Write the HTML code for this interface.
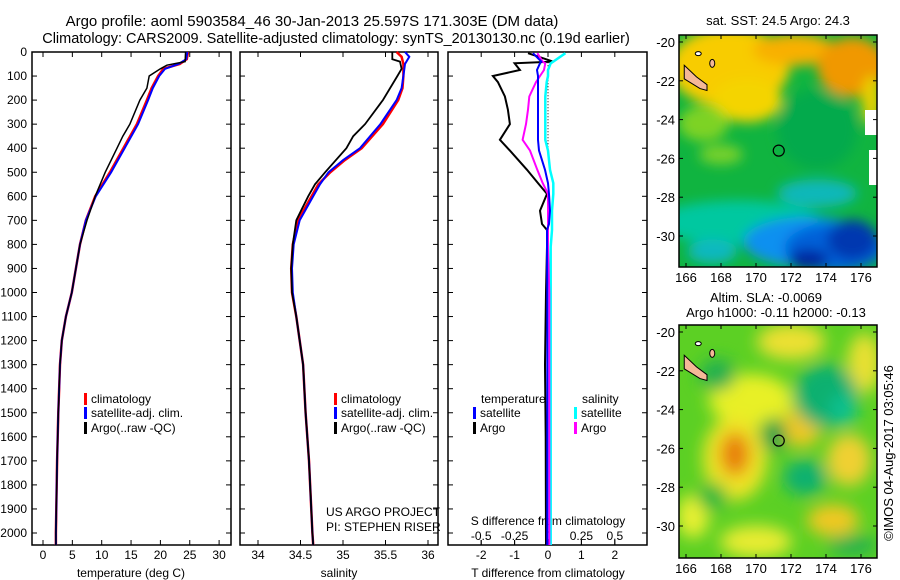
<!DOCTYPE html>
<html><head><meta charset="utf-8"><style>
body{margin:0;background:#fff;}
svg{display:block;font-family:"Liberation Sans",sans-serif;}
</style></head><body>
<svg id="c" width="900" height="580" xmlns="http://www.w3.org/2000/svg">
<defs>
<filter id="bl1" x="-50%" y="-50%" width="200%" height="200%"><feGaussianBlur stdDeviation="6"/></filter>
<filter id="bl2" x="-50%" y="-50%" width="200%" height="200%"><feGaussianBlur stdDeviation="8"/></filter>
<clipPath id="m1c"><rect x="679" y="35" width="198" height="232"/></clipPath>
<clipPath id="m2c"><rect x="679" y="325" width="198" height="233"/></clipPath>
</defs>
<g id="g" fill="#000" font-size="12"></g>
</svg>
<script>
// ---- data ----
const tDepth=[0,30,50,70,100,150,200,300,400,500,600,700,800,900,1000,1100,1200,1300,1500,1700,2000,2050];
const tClim=[24.7,24.5,23.3,20.5,19.6,18.5,17.7,16.0,13.7,11.4,8.9,7.3,6.3,5.6,4.9,3.9,3.2,2.9,2.6,2.4,2.2,2.2];
const tSat=[24.6,24.4,23.1,20.8,19.8,18.7,17.9,16.2,13.9,11.6,9.0,7.3,6.3,5.6,4.9,3.9,3.2,2.9,2.6,2.4,2.2,2.2];
const aDepth=[0,40,55,70,100,150,200,300,350,400,500,600,700,800,900,1000,1100,1200,1300,1500,1700,2000,2050];
const tArgo=[24.3,24.2,21.1,20.0,18.1,17.7,16.5,14.8,13.6,12.6,10.6,8.9,7.5,6.3,5.6,4.9,3.9,3.2,2.9,2.6,2.4,2.2,2.2];
const sDepth=[0,20,50,100,150,200,300,400,450,500,550,600,700,800,900,1000,1100,1200,1300,1500,1700,2000,2050];
const sClim=[35.63,35.69,35.71,35.71,35.70,35.65,35.47,35.22,35.02,34.85,34.71,34.63,34.47,34.41,34.39,34.40,34.45,34.49,34.53,34.56,34.60,34.64,34.65];
const sSat=[35.73,35.78,35.73,35.71,35.69,35.63,35.44,35.20,35.0,34.83,34.73,34.65,34.49,34.42,34.40,34.41,34.45,34.49,34.53,34.56,34.60,34.64,34.65];
const saDepth=[0,30,40,70,100,200,300,350,400,500,550,600,650,700,800,900,1000,1100,1200,1300,1500,1700,2000,2050];
const sArgo=[35.58,35.58,35.67,35.69,35.64,35.47,35.26,35.12,35.04,34.79,34.67,34.59,34.52,34.45,34.41,34.39,34.40,34.45,34.49,34.53,34.56,34.60,34.64,34.65];
const dDepth=[5,40,47,75,100,125,185,240,300,365,410,490,545,590,660,715,740,810,1000,1300,1600,2050];
const dTArgo=[-0.6,0.15,-1.0,-0.84,-1.65,-1.5,-1.29,-1.2,-1.14,-1.44,-1.14,-0.63,-0.3,-0.03,-0.24,-0.18,-0.03,-0.03,-0.06,-0.09,-0.07,-0.06];
const dTSat=[-0.45,-0.2,-0.24,-0.33,-0.3,-0.3,-0.3,-0.3,-0.3,-0.3,-0.27,-0.09,0,0.03,0.06,0.03,-0.03,-0.03,-0.02,-0.02,-0.02,-0.02];
const dSArgo=[-0.08,-0.04,-0.02,-0.03,-0.06,-0.09,-0.14,-0.15,-0.165,-0.19,-0.135,-0.08,-0.04,0,0,0,0,0,0.01,0.01,0.01,0.01];
const dSSat=[0.13,0.04,0.02,0,0,-0.01,-0.02,-0.02,-0.02,-0.02,0,0.015,0.04,0.04,0.03,0.03,0.03,0.02,0.02,0.02,0.02,0.02];
const depthTicks=[0,100,200,300,400,500,600,700,800,900,1000,1100,1200,1300,1400,1500,1600,1700,1800,1900,2000];
const tTicks=[0,5,10,15,20,25,30];
const sTicks=[34,34.5,35,35.5,36];
const dTTicks=[-2,-1,0,1,2];
const dSTicks=[-0.5,-0.25,0,0.25,0.5];
const lonTicks=[166,168,170,172,174,176];
const latTicks=[-20,-22,-24,-26,-28,-30];
// ---- helpers ----
const NS="http://www.w3.org/2000/svg";
const g=document.getElementById('g');
function el(t,a,p){const e=document.createElementNS(NS,t);for(const k in a)e.setAttribute(k,a[k]);(p||g).appendChild(e);return e;}
function txt(x,y,s,anchor,nm,size){const e=el('text',{x:x,y:y,'text-anchor':anchor||'start','font-size':size||12});e.textContent=s;


return e;}
const yTop=52,yBot=545;
const yD=d=>yTop+d*0.2405;
const xT=t=>43+t*5.87;
const xS=s=>258+(s-34)*85;
const xdT=v=>548+v*33.4;
const xdS=v=>548+v*133.6;
const P=[[32,231],[240,438],[448,647]];
function line(xs,ds,fx,col,nm,w){const pts=xs.map((v,i)=>fx(v).toFixed(1)+','+yD(ds[i]).toFixed(1)).join(' ');
const e=el('polyline',{points:pts,fill:'none',stroke:col,'stroke-width':w||2});

}
// titles
txt(312,26,'Argo profile: aoml 5903584_46 30-Jan-2013 25.597S 171.303E (DM data)','middle','title-line-1',15);
txt(336,43,'Climatology: CARS2009. Satellite-adjusted climatology: synTS_20130130.nc (0.19d earlier)','middle','title-line-2',14.5);
// frames & ticks
P.forEach((p,i)=>{const r=el('rect',{x:p[0],y:yTop,width:p[1]-p[0],height:yBot-yTop,fill:'none',stroke:'#000','stroke-width':1.5});


depthTicks.forEach(d=>{el('line',{x1:p[0],x2:p[0]+5,y1:yD(d),y2:yD(d),stroke:'#000'});el('line',{x1:p[1]-5,x2:p[1],y1:yD(d),y2:yD(d),stroke:'#000'});});});
depthTicks.forEach(d=>txt(27,yD(d)+4,String(d),'end','depth-tick-label'));
tTicks.forEach(t=>{el('line',{x1:xT(t),x2:xT(t),y1:yBot,y2:yBot-5,stroke:'#000'});el('line',{x1:xT(t),x2:xT(t),y1:yTop,y2:yTop+5,stroke:'#000'});txt(xT(t),559,String(t),'middle','temperature-tick-label');});
sTicks.forEach(t=>{el('line',{x1:xS(t),x2:xS(t),y1:yBot,y2:yBot-5,stroke:'#000'});el('line',{x1:xS(t),x2:xS(t),y1:yTop,y2:yTop+5,stroke:'#000'});txt(xS(t),559,String(t),'middle','salinity-tick-label');});
dTTicks.forEach(t=>{el('line',{x1:xdT(t),x2:xdT(t),y1:yBot,y2:yBot-5,stroke:'#000'});el('line',{x1:xdT(t),x2:xdT(t),y1:yTop,y2:yTop+5,stroke:'#000'});txt(xdT(t),559,String(t),'middle','t-diff-tick-label');});
dSTicks.forEach(t=>{el('line',{x1:xdS(t),x2:xdS(t),y1:yBot,y2:yBot-5,stroke:'#000'});txt(xdS(t),540,String(t),'middle','s-diff-tick-label');});
txt(131,577,'temperature (deg C)','middle','temperature-axis-title');
txt(339,577,'salinity','middle','salinity-axis-title');
txt(548,577,'T difference from climatology','middle','t-diff-axis-title');
txt(548,525,'S difference from climatology','middle','s-diff-axis-title');
// zero line
el('line',{x1:548,x2:548,y1:yD(30),y2:yD(420),stroke:'#000','stroke-dasharray':'1,2'});
// series
line(tClim,tDepth,xT,'#f00','temperature-climatology-line',2.5);
line(tSat,tDepth,xT,'#00f','temperature-satellite-line');
line(tArgo,aDepth,xT,'#000','temperature-argo-line',1.5);
line(sClim,sDepth,xS,'#f00','salinity-climatology-line',2.5);
line(sSat,sDepth,xS,'#00f','salinity-satellite-line');
line(sArgo,saDepth,xS,'#000','salinity-argo-line',1.8);
line(dTArgo,dDepth,xdT,'#000','t-diff-argo-line');
line(dSSat,dDepth,xdS,'#0ff','s-diff-satellite-line',2.5);
line(dSArgo,dDepth,xdS,'#f0f','s-diff-argo-line');
line(dTSat,dDepth,xdT,'#00f','t-diff-satellite-line');
// legends
function leg(x,y,col,s,nm){const r=el('rect',{x:x,y:y-10,width:3,height:12,fill:col});


txt(x+7,y,s,'start',nm);}
[[84],[334]].forEach(a=>{const x=a[0];leg(x,403,'#f00','climatology','legend-climatology');leg(x,417,'#00f','satellite-adj. clim.','legend-satellite-adj');leg(x,432,'#000','Argo(..raw -QC)','legend-argo');});
txt(481,403,'temperature','start','legend-temperature-header');
txt(582,403,'salinity','start','legend-salinity-header');
leg(473,417,'#00f','satellite','legend-t-satellite');leg(473,432,'#000','Argo','legend-t-argo');
leg(574,417,'#0ff','satellite','legend-s-satellite');leg(574,432,'#f0f','Argo','legend-s-argo');
txt(326,516,'US ARGO PROJECT','start','project-credit');
txt(326,531,'PI: STEPHEN RISER','start','pi-credit');
// ---- maps ----
const lonX=l=>686+(l-166)*17.5;
function latY(base,l){return base+(-20-l)*19.4;}
function blob(par,lon,lat,base,rx,ry,col,op){el('ellipse',{cx:lonX(lon),cy:latY(base,lat),rx:rx,ry:ry,fill:col,opacity:op||1},par);}
function mapFrame(y0,h,base,nm){const r=el('rect',{x:679,y:y0,width:198,height:h,fill:'none',stroke:'#000','stroke-width':1.5});


lonTicks.forEach(l=>{el('line',{x1:lonX(l),x2:lonX(l),y1:y0+h,y2:y0+h-4,stroke:'#000'});el('line',{x1:lonX(l),x2:lonX(l),y1:y0,y2:y0+4,stroke:'#000'});txt(lonX(l),y0+h+15,String(l),'middle','longitude-tick-label',13);});
latTicks.forEach(l=>{el('line',{x1:679,x2:683,y1:latY(base,l),y2:latY(base,l),stroke:'#000'});el('line',{x1:873,x2:877,y1:latY(base,l),y2:latY(base,l),stroke:'#000'});txt(675,latY(base,l)+5,String(l),'end','latitude-tick-label',13);});
const c=el('circle',{cx:lonX(171.3),cy:latY(base,-25.6),r:5.5,fill:'none',stroke:'#000','stroke-width':1.2});


const land=el('polygon',{points:[[165.9,-21.2],[166.6,-21.8],[167.2,-22.2],[167.2,-22.5],[166.8,-22.4],[165.9,-21.9]].map(p=>lonX(p[0])+','+latY(base,p[1])).join(' '),fill:'#f5b898',stroke:'#000'});


el('ellipse',{cx:lonX(167.5),cy:latY(base,-21.1),rx:2.5,ry:4,fill:'#f5b898',stroke:'#000'});
el('ellipse',{cx:lonX(166.7),cy:latY(base,-20.6),rx:3,ry:2,fill:'#fff',stroke:'#000'});}
// map1 SST
const m1=el('g',{'clip-path':'url(#m1c)'});


el('rect',{x:679,y:35,width:198,height:232,fill:'#10b440'},m1);
const m1b=el('g',{filter:'url(#bl1)'},m1);
blob(m1b,168.5,-21.3,42,60,40,'#f8cc00');blob(m1b,169.5,-23,42,35,22,'#f4d400');blob(m1b,172.2,-20.4,42,42,16,'#f8b000');
blob(m1b,175.5,-21.3,42,35,30,'#f09800');blob(m1b,176.6,-23,42,10,25,'#e8d000');
blob(m1b,167,-24.2,42,25,18,'#90d820',0.85);blob(m1b,168,-25.8,42,22,10,'#90d828',0.8);
blob(m1b,173.5,-24.5,42,40,40,'#08a850',0.8);
blob(m1b,169,-29.3,42,85,22,'#00c8a0');blob(m1b,173.5,-27.8,42,40,14,'#10b8c8',0.9);
blob(m1b,173,-30.3,42,65,25,'#1090f0');blob(m1b,174.5,-30.6,42,50,24,'#0060d8');blob(m1b,175.5,-30.2,42,25,20,'#0038b0');blob(m1b,173,-31.2,42,20,10,'#0028a0');
blob(m1b,167.5,-30.8,42,25,12,'#10b8c0');
el('rect',{x:865,y:110,width:12,height:25,fill:'#fff'},m1);el('rect',{x:869,y:150,width:8,height:35,fill:'#fff'},m1);
txt(778,25,'sat. SST: 24.5 Argo: 24.3','middle','sst-map-title',13);
mapFrame(35,232,42,'sst-map-frame');
// map2 SLA
const m2=el('g',{'clip-path':'url(#m2c)'});


el('rect',{x:679,y:325,width:198,height:233,fill:'#5cd024'},m2);
const m2b=el('g',{filter:'url(#bl2)'},m2);
blob(m2b,169.7,-23.5,332,42,26,'#e8f028');blob(m2b,172.6,-24.9,332,20,20,'#f0c820');
blob(m2b,168.8,-26.5,332,32,42,'#eee428');blob(m2b,168.8,-26.3,332,15,22,'#e88010');
blob(m2b,175.3,-26.6,332,22,26,'#f0d030');blob(m2b,174.4,-29.7,332,26,16,'#f0c820');
blob(m2b,172,-20.5,332,34,18,'#ece030');blob(m2b,176.2,-21.6,332,17,30,'#e8e030');
blob(m2b,170,-30.8,332,36,16,'#e8ec30');blob(m2b,166.4,-29.5,332,16,22,'#e8f030');
blob(m2b,174,-23.3,332,32,32,'#10b070');blob(m2b,175,-24,332,14,16,'#10c090');blob(m2b,172.8,-27.5,332,22,18,'#10b070');
blob(m2b,171,-25.3,332,13,17,'#10a048');blob(m2b,167.8,-22.2,332,18,16,'#20b050');blob(m2b,175.5,-31,332,25,10,'#20b050');
blob(m2b,167.5,-28.5,332,15,14,'#20b840');
txt(766,302,'Altim. SLA: -0.0069','middle','sla-map-title',13);
txt(776,317,'Argo h1000: -0.11 h2000: -0.13','middle','sla-map-subtitle',13);
mapFrame(325,233,332,'sla-map-frame');
const cr=txt(0,0,'©IMOS 04-Aug-2017 03:05:46','middle','imos-timestamp',13);
cr.setAttribute('transform','translate(893,453) rotate(-90)');
</script>
</body></html>
